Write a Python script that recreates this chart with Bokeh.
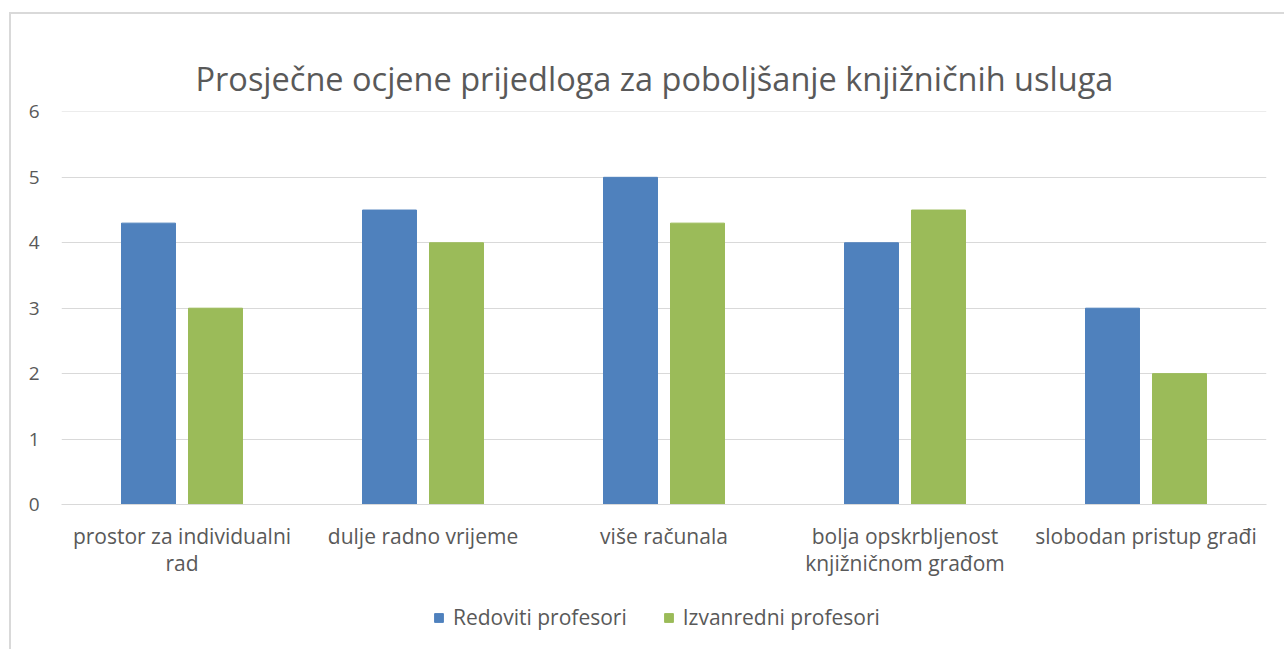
from bokeh.plotting import figure
from bokeh.models import (ColumnDataSource, Range1d, FixedTicker, Legend, LegendItem,
                          Title, LinearAxis)
from bokeh.layouts import column
from bokeh.transform import dodge
from bokeh.embed import file_html
from bokeh.resources import INLINE

categories = ["prostor za individualni rad", "dulje radno vrijeme", "više računala",
              "bolja opskrbljenost knjižničnom građom", "slobodan pristup građi"]
label_line1 = ["prostor za individualni", "dulje radno vrijeme", "više računala",
               "bolja opskrbljenost", "slobodan pristup građi"]
label_line2 = ["rad", "", "", "knjižničnom građom", ""]
redoviti = [4.3, 4.5, 5.0, 4.0, 3.0]
izvanredni = [3.0, 4.0, 4.3, 4.5, 2.0]
y_ticks = [0, 1, 2, 3, 4, 5, 6]
series_names = ["Redoviti profesori", "Izvanredni profesori"]
colors = ["#4f81bd", "#9bbb59"]

FONT = "Open Sans"
GRAY = "#595959"
GRID = "#d9d9d9"

idx = list(range(len(categories)))
src = ColumnDataSource(dict(idx=idx, cat=categories, r=redoviti, i=izvanredni))

p = figure(width=1273, height=590, x_range=Range1d(-0.5, len(categories) - 0.5),
           y_range=Range1d(0, 6.006), output_backend="svg", toolbar_location=None,
           x_axis_type=None,
           min_border_left=50, min_border_right=18, min_border_top=97, min_border_bottom=100)
p.outline_line_color = None

t = Title(text="Prosječne ocjene prijedloga za poboljšanje knjižničnih usluga", align="left",
          offset=134, text_font=FONT, text_font_size="32.5px", text_font_style="normal",
          text_color=GRAY, standoff=21)
p.add_layout(t, "above")

rb = p.vbar(x=dodge("idx", -0.139), top="r", width=0.224, source=src,
            fill_color=colors[0], line_color=colors[0])
ib = p.vbar(x=dodge("idx", 0.139), top="i", width=0.224, source=src,
            fill_color=colors[1], line_color=colors[1])

p.ygrid.grid_line_color = GRID
p.ygrid.ticker = FixedTicker(ticks=y_ticks)

p.yaxis.ticker = FixedTicker(ticks=y_ticks)
p.yaxis.axis_line_color = None
p.yaxis.major_tick_line_color = None
p.yaxis.minor_tick_line_color = None
p.yaxis.major_label_text_font = FONT
p.yaxis.major_label_text_font_size = "19px"
p.yaxis.major_label_text_color = GRAY
p.yaxis.major_label_standoff = 16

ax1 = LinearAxis(ticker=FixedTicker(ticks=idx), axis_line_color=GRID,
                 major_tick_line_color=None, minor_tick_line_color=None,
                 major_label_text_font=FONT, major_label_text_font_size="21px",
                 major_label_text_color=GRAY, major_label_standoff=11,
                 major_label_overrides={i: s for i, s in zip(idx, label_line1)})
p.add_layout(ax1, "below")
ax2 = LinearAxis(ticker=FixedTicker(ticks=idx), axis_line_color=None,
                 major_tick_line_color=None, minor_tick_line_color=None,
                 major_label_text_font=FONT, major_label_text_font_size="21px",
                 major_label_text_color=GRAY, major_label_standoff=-10,
                 major_label_overrides={i: s for i, s in zip(idx, label_line2)})
p.add_layout(ax2, "below")

# legend strip: swatches come from the same series (hidden renderers)
p2 = figure(width=1273, height=45, x_range=Range1d(-0.5, len(categories) - 0.5),
            y_range=Range1d(0, 6), output_backend="svg", toolbar_location=None,
            x_axis_type=None, y_axis_type=None,
            min_border_left=50, min_border_right=18, min_border_top=0, min_border_bottom=0)
p2.outline_line_color = None
d1 = p2.vbar(x="idx", top="r", width=0.1, source=src, fill_color=colors[0], line_color=colors[0])
d2 = p2.vbar(x="idx", top="i", width=0.1, source=src, fill_color=colors[1], line_color=colors[1])
d1.visible = False
d2.visible = False
legend = Legend(items=[LegendItem(label=series_names[0], renderers=[d1]),
                       LegendItem(label=series_names[1], renderers=[d2])],
                orientation="horizontal", location=(372, 18),
                label_text_font=FONT, label_text_font_size="21px", label_text_color=GRAY,
                glyph_width=11, glyph_height=11, label_standoff=9, spacing=36,
                border_line_color=None, background_fill_alpha=0, margin=0, padding=0)
p2.add_layout(legend, "center")

lay = column(p, p2, spacing=0)
lay.styles = {"border-left": "2px solid #d9d9d9", "border-top": "2px solid #d9d9d9",
              "margin-top": "12px", "margin-left": "9px"}

open("out.html", "w").write(file_html(lay, INLINE))
